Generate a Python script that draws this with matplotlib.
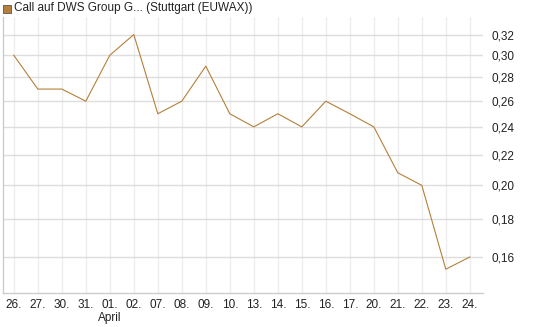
import matplotlib
matplotlib.use('Agg')
import matplotlib.pyplot as plt
from matplotlib.ticker import FixedLocator, FixedFormatter, NullLocator
from matplotlib.patches import Rectangle

plt.rcParams['font.family'] = ['Liberation Sans', 'DejaVu Sans']

dates = ['26.', '27.', '30.', '31.', '01.\nApril', '02.', '07.', '08.', '09.', '10.',
         '13.', '14.', '15.', '16.', '17.', '20.', '21.', '22.', '23.', '24.']
prices = [0.30, 0.27, 0.27, 0.26, 0.30, 0.32, 0.25, 0.26, 0.29, 0.25,
          0.24, 0.25, 0.24, 0.26, 0.25, 0.24, 0.208, 0.20, 0.154, 0.16]
yticks = [0.16, 0.18, 0.20, 0.22, 0.24, 0.26, 0.28, 0.30, 0.32]
title = 'Call auf DWS Group G... (Stuttgart (EUWAX))'
line_color = '#b5803a'

fig = plt.figure(figsize=(5.45, 3.27), dpi=100)
ax = fig.add_axes([3/545, 1 - 293/327, 480/545, 276/327])

x = list(range(len(prices)))
ax.plot(x, prices, color=line_color, linewidth=0.8)

ax.set_yscale('log')
ax.set_ylim(0.143, 0.338)
ax.set_xlim(-0.45, len(prices) - 1 + 0.55)

ax.yaxis.set_major_locator(FixedLocator(yticks))
ax.yaxis.set_major_formatter(FixedFormatter([('%.2f' % v).replace('.', ',') for v in yticks]))
ax.yaxis.set_minor_locator(NullLocator())
ax.yaxis.tick_right()
ax.set_xticks(x)
ax.set_xticklabels(dates)

ax.tick_params(axis='both', length=0, labelsize=8.5, colors='#222222')
ax.tick_params(axis='y', pad=6)
ax.tick_params(axis='x', pad=4)

ax.grid(axis='y', color='#dddddd', linewidth=1)
ax.grid(axis='x', color='#eeeeee', linewidth=1)
ax.set_axisbelow(True)

for side in ['top', 'right']:
    ax.spines[side].set_visible(False)
for side in ['left', 'bottom']:
    ax.spines[side].set_color('#cccccc')
    ax.spines[side].set_linewidth(1)

fig.patches.append(Rectangle((3/545, 1 - 12.5/327), 7.5/545, 7.5/327, transform=fig.transFigure,
                             facecolor=line_color, edgecolor='#555555', linewidth=0.6))
fig.text(14/545, 1 - 8.5/327, title, fontsize=8.5, va='center', ha='left', color='#222222')

fig.savefig('out.png', dpi=100)
